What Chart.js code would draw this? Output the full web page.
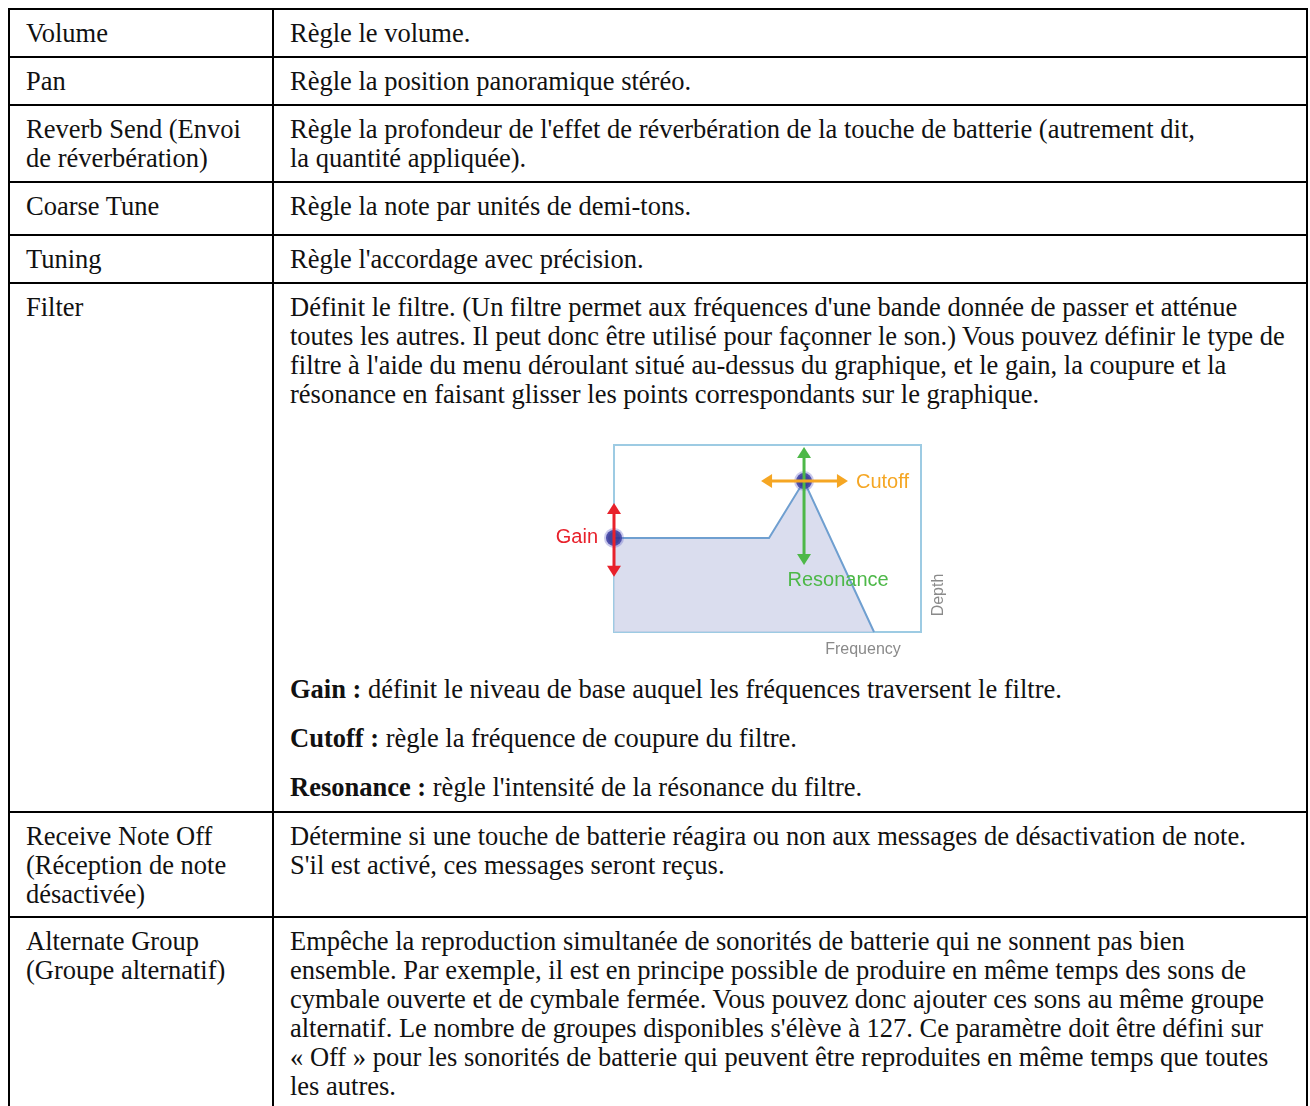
<!DOCTYPE html>
<html lang="fr">
<head>
<meta charset="utf-8">
<title>Filter</title>
<script src="https://cdn.jsdelivr.net/npm/chart.js@4.4.1/dist/chart.umd.min.js"></script>
<style>
  html, body { margin: 0; padding: 0; background: #fff; overflow: hidden; }
  body { width: 1310px; height: 1106px; }
  table {
    position: absolute; left: 8px; top: 8px;
    border-collapse: collapse;
    font-family: "Liberation Serif", "Times New Roman", serif;
    font-size: 26.5px; line-height: 29px; color: #111;
  }
  td {
    border: 2px solid #000;
    vertical-align: top;
    padding: 9px 10px 0 16px;
    white-space: nowrap;
  }
  td.name { width: 236px; }
  td.desc { width: 1006px; }
  p { margin: 0; }
  .sub { margin-top: 20px; }
  #chart-box { position: relative; width: 420px; height: 235px; margin: 21px 0 0 251px; }
</style>
</head>
<body>
<table>
  <tr style="height:48px"><td class="name">Volume</td><td class="desc">Règle le volume.</td></tr>
  <tr style="height:48px"><td class="name">Pan</td><td class="desc">Règle la position panoramique stéréo.</td></tr>
  <tr style="height:77px"><td class="name">Reverb Send (Envoi<br>de réverbération)</td><td class="desc">Règle la profondeur de l'effet de réverbération de la touche de batterie (autrement dit,<br>la quantité appliquée).</td></tr>
  <tr style="height:53px"><td class="name">Coarse Tune</td><td class="desc">Règle la note par unités de demi-tons.</td></tr>
  <tr style="height:48px"><td class="name">Tuning</td><td class="desc">Règle l'accordage avec précision.</td></tr>
  <tr style="height:529px"><td class="name">Filter</td><td class="desc">
    <p>Définit le filtre. (Un filtre permet aux fréquences d'une bande donnée de passer et atténue<br>toutes les autres. Il peut donc être utilisé pour façonner le son.) Vous pouvez définir le type de<br>filtre à l'aide du menu déroulant situé au-dessus du graphique, et le gain, la coupure et la<br>résonance en faisant glisser les points correspondants sur le graphique.</p>
    <div id="chart-box"><canvas id="chart" width="420" height="235"></canvas></div>
    <p style="margin-top:10px"><b>Gain :</b> définit le niveau de base auquel les fréquences traversent le filtre.</p>
    <p class="sub"><b>Cutoff :</b> règle la fréquence de coupure du filtre.</p>
    <p class="sub"><b>Resonance :</b> règle l'intensité de la résonance du filtre.</p>
  </td></tr>
  <tr style="height:105px"><td class="name">Receive Note Off<br>(Réception de note<br>désactivée)</td><td class="desc">Détermine si une touche de batterie réagira ou non aux messages de désactivation de note.<br>S'il est activé, ces messages seront reçus.</td></tr>
  <tr style="height:240px"><td class="name">Alternate Group<br>(Groupe alternatif)</td><td class="desc">Empêche la reproduction simultanée de sonorités de batterie qui ne sonnent pas bien<br>ensemble. Par exemple, il est en principe possible de produire en même temps des sons de<br>cymbale ouverte et de cymbale fermée. Vous pouvez donc ajouter ces sons au même groupe<br>alternatif. Le nombre de groupes disponibles s'élève à 127. Ce paramètre doit être défini sur<br>« Off » pour les sonorités de batterie qui peuvent être reproduites en même temps que toutes<br>les autres.</td></tr>
</table>

<script>
// filter curve (frequency 0-100, depth 0-100)
const frequency = [0, 50.5, 61.9, 84.7];
const depth = [50.3, 50.3, 80.7, 0];
const handleRadius = [8, 0, 8, 0];

// drag arrows: [x1, y1, x2, y2] in chart units
const gainArrow = [0, 29.5, 0, 69];
const resonanceArrow = [61.9, 35.8, 61.9, 98.9];
const cutoffArrow = [47.9, 80.7, 76.2, 80.7];

const arrowColors = { gain: '#e8212b', cutoff: '#f5a623', resonance: '#4db848' };

function drawArrow(ctx, x1, y1, x2, y2, color){
    let ang = Math.atan2(y2 - y1, x2 - x1);
    let head = 11, half = 7;
    ctx.strokeStyle = color;
    ctx.fillStyle = color;
    ctx.lineWidth = 3;
    ctx.beginPath();
    ctx.moveTo(x1 + Math.cos(ang) * head * 0.8, y1 + Math.sin(ang) * head * 0.8);
    ctx.lineTo(x2 - Math.cos(ang) * head * 0.8, y2 - Math.sin(ang) * head * 0.8);
    ctx.stroke();
    [[x2, y2, ang], [x1, y1, ang + Math.PI]].forEach(([px, py, a]) => {
        ctx.beginPath();
        ctx.moveTo(px, py);
        ctx.lineTo(px - Math.cos(a) * head - Math.sin(a) * half, py - Math.sin(a) * head + Math.cos(a) * half);
        ctx.lineTo(px - Math.cos(a) * head + Math.sin(a) * half, py - Math.sin(a) * head - Math.cos(a) * half);
        ctx.closePath();
        ctx.fill();
    });
}

const boxPlugin = {
    id: 'filterBox',
    beforeDatasetsDraw: (chart) => {
        const {ctx, chartArea} = chart;
        ctx.save();
        ctx.strokeStyle = '#9dcbe3';
        ctx.lineWidth = 2;
        ctx.strokeRect(chartArea.left, chartArea.top, chartArea.right - chartArea.left, chartArea.bottom - chartArea.top);
        ctx.restore();
    },
    afterDatasetsDraw: (chart) => {
        const {ctx, chartArea, scales} = chart;
        const sx = v => scales.x.getPixelForValue(v);
        const sy = v => scales.y.getPixelForValue(v);
        ctx.save();
        drawArrow(ctx, sx(gainArrow[0]), sy(gainArrow[1]), sx(gainArrow[2]), sy(gainArrow[3]), arrowColors.gain);
        drawArrow(ctx, sx(resonanceArrow[0]), sy(resonanceArrow[1]), sx(resonanceArrow[2]), sy(resonanceArrow[3]), arrowColors.resonance);
        drawArrow(ctx, sx(cutoffArrow[0]), sy(cutoffArrow[1]), sx(cutoffArrow[2]), sy(cutoffArrow[3]), arrowColors.cutoff);

        ctx.font = '20px "Liberation Sans", Arial, sans-serif';
        ctx.textBaseline = 'middle';
        ctx.fillStyle = arrowColors.gain;
        ctx.textAlign = 'right';
        ctx.fillText('Gain', sx(0) - 16, sy(depth[0]));
        ctx.fillStyle = arrowColors.cutoff;
        ctx.textAlign = 'left';
        ctx.fillText('Cutoff', sx(cutoffArrow[2]) + 8, sy(cutoffArrow[1]) + 1);
        ctx.fillStyle = arrowColors.resonance;
        ctx.textAlign = 'center';
        ctx.fillText('Resonance', sx(resonanceArrow[0]) + 34, sy(resonanceArrow[1]) + 15);

        ctx.fillStyle = '#8a8a8a';
        ctx.font = '16px "Liberation Sans", Arial, sans-serif';
        ctx.fillText('Frequency', chartArea.right - 58, chartArea.bottom + 18);
        ctx.translate(chartArea.right + 18, chartArea.bottom - 37);
        ctx.rotate(-Math.PI / 2);
        ctx.fillText('Depth', 0, 0);
        ctx.restore();
    }
};

let chart = new Chart(document.getElementById('chart'), {
    type: 'line',
    data: {
        datasets: [{
            data: frequency.map((f, i) => ({x: f, y: depth[i]})),
            clip: false,
            borderColor: '#6f9fd0',
            borderWidth: 2,
            backgroundColor: 'rgba(205,210,232,0.75)',
            fill: 'origin',
            tension: 0,
            pointRadius: handleRadius,
            pointBackgroundColor: 'rgba(50,54,148,0.92)',
            pointBorderColor: 'rgba(100,100,200,0.35)',
            pointBorderWidth: 4
        }]
    },
    options: {
        responsive: false,
        animation: false,
        layout: { padding: { left: 73, top: 15, right: 40, bottom: 33 } },
        scales: {
            x: { type: 'linear', min: 0, max: 100, display: false },
            y: { min: 0, max: 100, display: false }
        },
        plugins: {
            legend: { display: false },
            tooltip: { enabled: false }
        }
    },
    plugins: [boxPlugin]
});
</script>
</body>
</html>
